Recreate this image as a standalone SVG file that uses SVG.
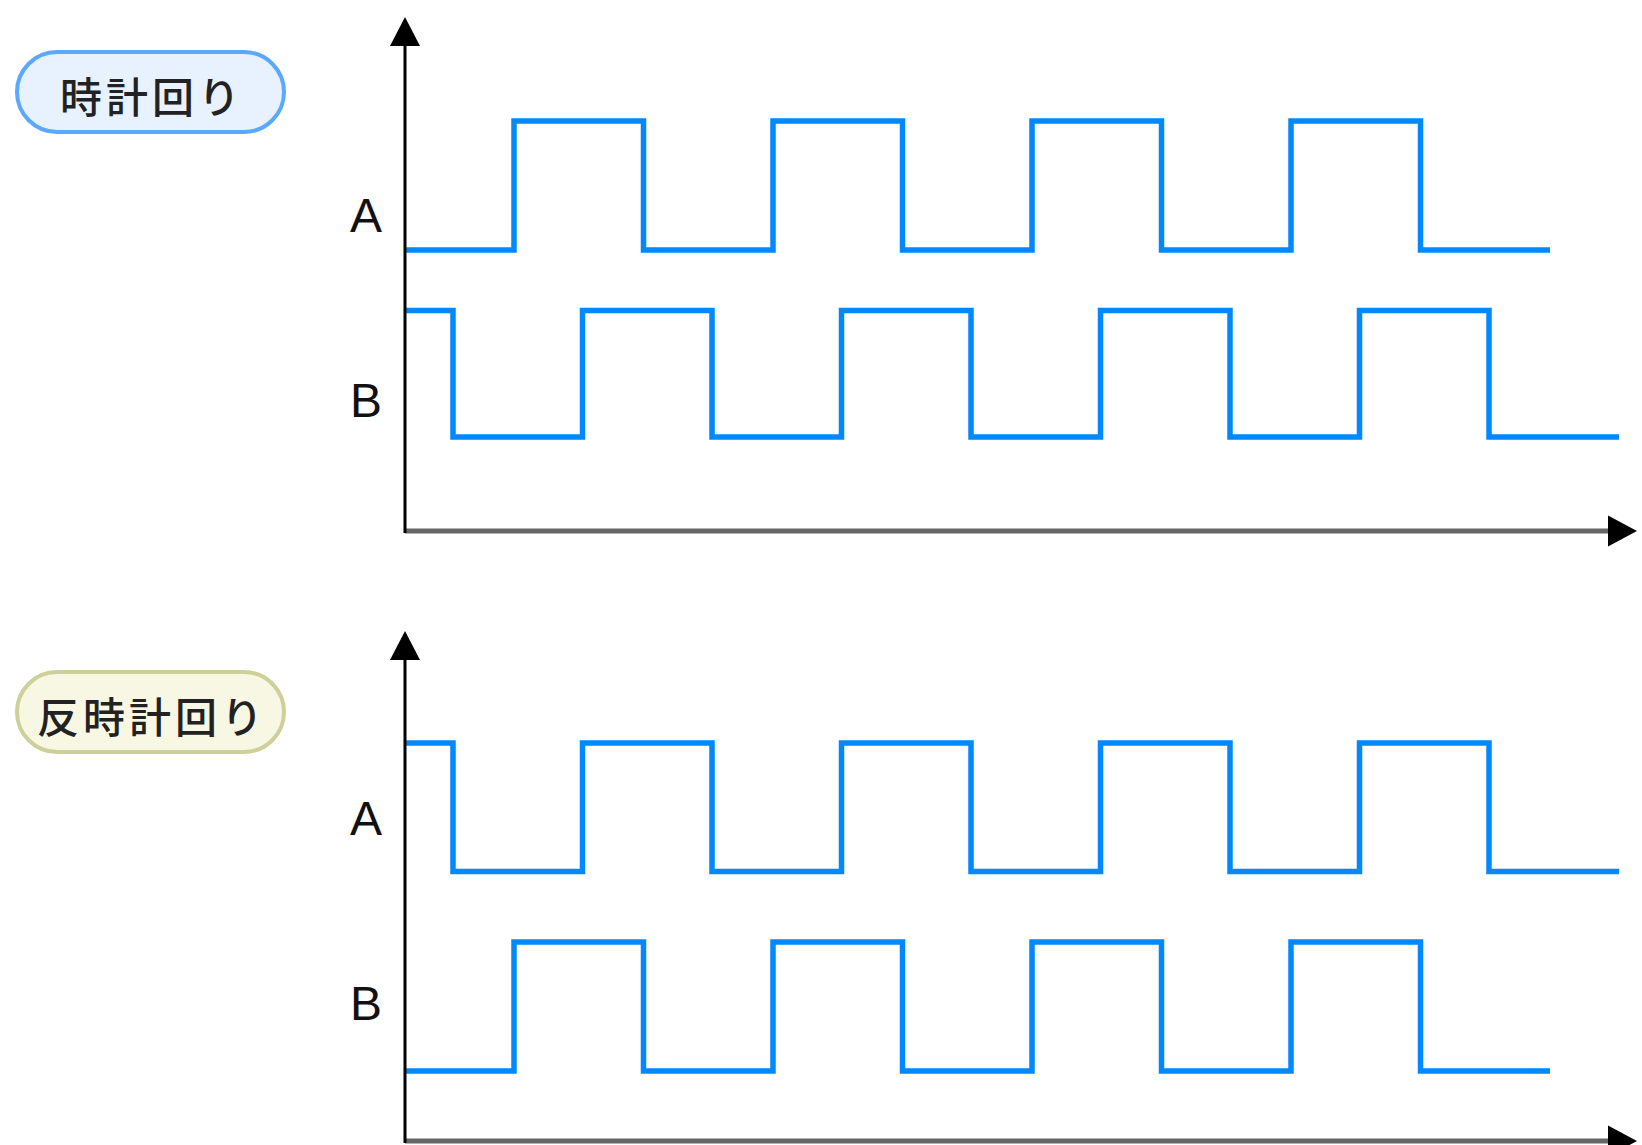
<svg xmlns="http://www.w3.org/2000/svg" width="1642" height="1145" viewBox="0 0 1642 1145">
  <style>
    .sig { fill: none; stroke: #0088ff; stroke-width: 5.5; stroke-linejoin: miter; stroke-linecap: butt; }
    .yaxis { stroke: #000000; stroke-width: 3; fill: none; }
    .xaxis { stroke: #666666; stroke-width: 5; fill: none; }
    .head { fill: #000000; }
    .lbl { font-family: "Liberation Sans", Arial, sans-serif; font-size: 48px; fill: #111111; text-anchor: middle; }
    .pilltext { font-family: "Noto Sans CJK JP", "Noto Sans CJK SC", sans-serif; font-size: 42px; font-weight: 500; letter-spacing: 4px; fill: #222222; text-anchor: middle; dominant-baseline: central; }
    .cw { fill: #e8f2ff; stroke: #5aa8ff; stroke-width: 4; }
    .ccw { fill: #f7f7e4; stroke: #cfcf9c; stroke-width: 4; }
  </style>
  <rect x="0" y="0" width="1642" height="1145" fill="#ffffff"/>

  <g id="label-cw">
    <rect class="cw" x="17" y="52" width="267" height="80" rx="40" ry="40"/>
    <text class="pilltext" x="152" y="94">時計回り</text>
  </g>
  <g id="label-ccw">
    <rect class="ccw" x="17" y="672" width="267" height="80" rx="40" ry="40"/>
    <text class="pilltext" x="152" y="714">反時計回り</text>
  </g>

  <g id="chart-cw">
    <text class="lbl" x="366" y="232">A</text>
    <text class="lbl" x="366" y="417">B</text>
    <path class="sig" d="M405,250 H514 V121 H643.5 V250 H773 V121 H902.5 V250 H1032 V121 H1161.5 V250 H1291 V121 H1420.5 V250 H1550"/>
    <path class="sig" d="M405,310.5 H453 V437 H582.5 V310.5 H712 V437 H841.5 V310.5 H971 V437 H1100.5 V310.5 H1230 V437 H1359.5 V310.5 H1489 V437 H1619"/>
  </g>

  <g id="chart-ccw">
    <text class="lbl" x="366" y="835">A</text>
    <text class="lbl" x="366" y="1020">B</text>
    <path class="sig" d="M405,743 H453 V871.5 H582.5 V743 H712 V871.5 H841.5 V743 H971 V871.5 H1100.5 V743 H1230 V871.5 H1359.5 V743 H1489 V871.5 H1619"/>
    <path class="sig" d="M405,1071 H514 V942 H643.5 V1071 H773 V942 H902.5 V1071 H1032 V942 H1161.5 V1071 H1291 V942 H1420.5 V1071 H1550"/>
  </g>

  <g id="connectors">
    <line class="xaxis" x1="405" y1="531" x2="1612" y2="531"/>
    <line class="yaxis" x1="405" y1="533" x2="405" y2="44"/>
    <polygon class="head" points="405,17 390,46 420,46"/>
    <polygon class="head" points="1637,531 1608,515.5 1608,546.5"/>

    <line class="xaxis" x1="405" y1="1141" x2="1612" y2="1141"/>
    <line class="yaxis" x1="405" y1="1143" x2="405" y2="658"/>
    <polygon class="head" points="405,631 390,660 420,660"/>
    <polygon class="head" points="1637,1141 1608,1125.5 1608,1156.5"/>
  </g>
</svg>
